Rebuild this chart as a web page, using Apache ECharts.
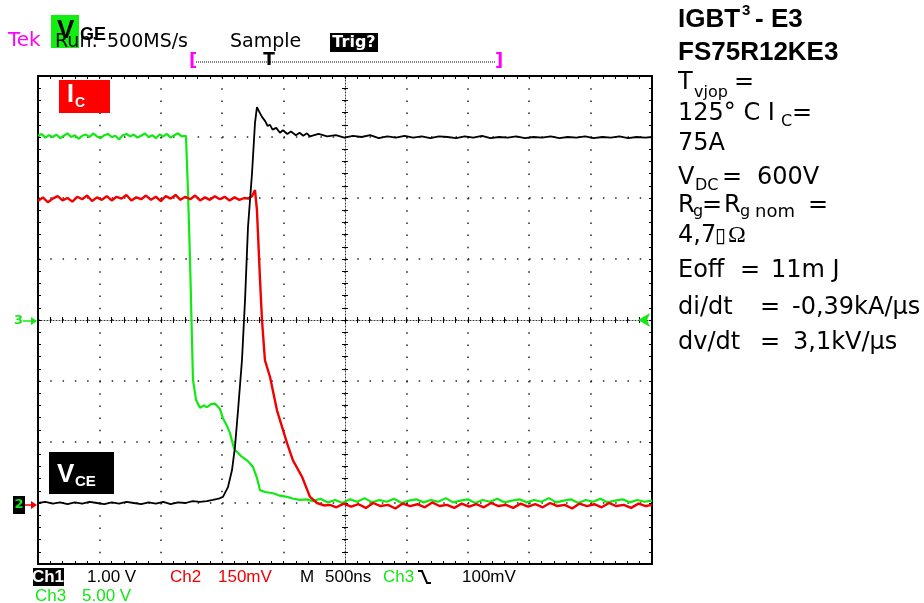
<!DOCTYPE html>
<html><head><meta charset="utf-8">
<script src="https://cdn.jsdelivr.net/npm/echarts@6/dist/echarts.min.js"></script>
<style>html,body{margin:0;padding:0;background:#fff}#c{width:924px;height:603px}</style>
</head><body><div id="c"></div>
<script>
// ---- axis ranges (time in ns, 500 ns/div; vertical in divisions) ----
const timeRange = [0, 5000];
const timeStep = 500;
const divRange = [-4, 4];
const divStep = 1;

// ---- V_GE (green, Ch3) ----
const vgeTrace = [
 [0,3.02],[30,3.05],[60,2.99],[90,3.03],[120,3.00],[150,3.04],[180,2.98],[210,3.02],[240,3.06],[270,3.00],
 [300,3.03],[330,2.97],[360,3.02],[390,3.04],[420,3.00],[450,3.06],[480,3.01],[510,2.98],[540,3.03],[570,3.05],
 [600,3.00],[630,3.02],[660,2.96],[690,3.03],[720,3.05],[750,3.01],[780,3.04],[810,2.99],[840,3.02],[870,3.06],
 [900,3.00],[930,3.03],[960,2.98],[990,3.04],[1020,3.01],[1050,3.05],[1080,2.99],[1110,3.03],[1140,3.06],[1170,3.01],
 [1205,3.02],[1221,2.13],[1238,0.98],[1254,-0.33],[1262,-0.98],[1287,-1.31],[1319,-1.44],[1350,-1.40],[1376,-1.43],
 [1410,-1.38],[1441,-1.37],[1482,-1.46],[1506,-1.61],[1535,-1.72],[1563,-1.85],[1590,-2.06],[1604,-2.13],[1630,-2.18],
 [1653,-2.23],[1702,-2.30],[1730,-2.36],[1751,-2.41],[1783,-2.59],[1808,-2.79],[1850,-2.82],[1914,-2.84],[1970,-2.88],
 [2028,-2.90],[2080,-2.93],[2133,-2.95],[2190,-2.94],[2239,-2.97],
 [2300,-2.93],[2360,-2.99],[2420,-2.95],[2480,-3.00],[2540,-2.94],[2600,-2.98],[2660,-2.92],[2720,-2.99],[2780,-2.95],
 [2840,-2.98],[2900,-2.93],[2960,-3.00],[3020,-2.96],[3080,-2.94],[3140,-2.99],[3200,-2.95],[3260,-2.98],[3320,-2.92],
 [3380,-2.99],[3440,-2.96],[3500,-2.94],[3560,-3.00],[3620,-2.95],[3680,-2.98],[3740,-2.93],[3800,-2.99],[3860,-2.96],
 [3920,-2.94],[3980,-2.99],[4040,-2.95],[4100,-2.98],[4160,-2.92],[4220,-2.99],[4280,-2.96],[4340,-2.94],[4400,-3.00],
 [4460,-2.95],[4520,-2.98],[4580,-2.93],[4640,-2.99],[4700,-2.96],[4760,-2.94],[4820,-2.99],[4880,-2.95],[4940,-2.98],[5000,-2.96]
];

// ---- I_C (red, Ch2) ----
const icTrace = [
 [0,1.95],[40,2.01],[80,1.93],[120,1.99],[160,2.03],[200,1.96],[240,2.00],[280,1.94],[320,2.02],[360,1.98],
 [400,2.04],[440,1.95],[480,2.01],[520,1.97],[560,2.03],[600,1.96],[640,2.02],[680,1.99],[720,2.05],[760,1.96],
 [800,2.01],[840,1.98],[880,2.04],[920,1.97],[960,2.02],[1000,1.95],[1040,2.03],[1080,1.99],[1120,2.05],[1160,1.97],
 [1200,2.02],[1240,1.98],[1280,2.04],[1320,1.96],[1360,2.01],[1400,1.97],[1440,2.03],[1480,1.98],[1520,2.02],[1560,1.96],
 [1600,2.01],[1640,1.97],[1680,2.00],[1710,1.99],[1743,2.03],[1767,2.13],[1783,1.80],[1792,1.39],[1808,0.66],[1824,0.00],
 [1848,-0.66],[1889,-0.93],[1946,-1.48],[2028,-2.02],[2076,-2.30],[2150,-2.57],[2215,-2.90],[2272,-3.00],[2330,-3.04],
 [2378,-3.03],[2430,-3.07],[2490,-3.01],[2550,-3.06],[2610,-3.02],[2670,-3.08],[2730,-3.00],[2790,-3.05],[2850,-3.03],
 [2910,-3.09],[2970,-3.01],[3030,-3.05],[3090,-3.02],[3150,-3.07],[3210,-2.99],[3270,-3.05],[3330,-3.03],[3390,-3.08],
 [3450,-3.01],[3510,-3.06],[3570,-3.02],[3630,-3.07],[3690,-3.00],[3750,-3.05],[3810,-3.03],[3870,-3.08],[3930,-3.01],
 [3990,-3.06],[4050,-3.02],[4110,-3.07],[4170,-3.00],[4230,-3.05],[4290,-3.03],[4350,-3.09],[4410,-3.01],[4470,-3.05],
 [4530,-3.02],[4590,-3.07],[4650,-3.00],[4710,-3.05],[4770,-3.03],[4830,-3.08],[4890,-3.01],[4950,-3.05],[5000,-3.03]
];

// ---- V_CE (black, Ch1) ----
const vceTrace = [
 [0,-3.00],[60,-2.98],[120,-3.01],[180,-2.99],[240,-3.02],[300,-2.99],[360,-3.01],[420,-2.98],[480,-3.00],[540,-3.02],
 [600,-2.99],[660,-3.01],[720,-2.98],[780,-3.00],[840,-3.02],[900,-2.99],[960,-3.01],[1020,-2.98],[1080,-3.02],[1140,-2.99],
 [1200,-3.00],[1260,-2.97],[1319,-2.98],[1375,-2.97],[1425,-2.95],[1470,-2.93],[1506,-2.90],[1547,-2.74],[1580,-2.46],
 [1604,-2.08],[1629,-1.48],[1661,-0.66],[1686,0.33],[1710,1.52],[1743,2.41],[1767,3.23],[1783,3.49],[1800,3.42],
 [1824,3.33],[1850,3.26],[1870,3.18],[1889,3.20],[1910,3.12],[1940,3.15],[1970,3.07],[1995,3.11],[2030,3.05],[2060,3.09],
 [2100,3.03],[2130,3.07],[2160,3.02],[2190,3.06],[2215,3.01],
 [2285,3.05],[2355,3.01],[2425,3.03],[2495,2.99],[2565,3.02],[2635,3.00],[2705,3.03],[2775,2.98],[2845,3.01],[2915,2.99],
 [2985,3.02],[3055,2.99],[3125,3.01],[3195,2.98],[3265,3.01],[3335,3.00],[3405,2.98],[3475,3.01],[3545,2.99],[3615,3.02],
 [3685,2.98],[3755,3.00],[3825,2.99],[3895,3.01],[3965,2.98],[4035,3.00],[4105,2.99],[4175,3.01],[4245,2.98],[4315,3.00],
 [4385,2.99],[4455,3.01],[4525,2.98],[4595,3.00],[4665,2.99],[4735,3.01],[4805,2.98],[4875,3.00],[4945,2.99],[5000,3.00]
];

// ---- texts ----
const infoBold = ['IGBT', '3', '- E3', 'FS75R12KE3'];
const scopeHeader = ['Tek', 'Run:', '500MS/s', 'Sample', 'Trig?'];
const scopeFooter = ['Ch1', '1.00 V', 'Ch2', '150mV', 'M', '500ns', 'Ch3', '100mV', 'Ch3', '5.00 V'];

const GREEN = '#12e812', RED = '#f20000', BLACK = '#000';
const DJ = '"DejaVu Sans"', LS = '"Liberation Sans"';

function txt(x, y, s, font, fill, align) {
  return {type:'text', x:x, y:y, z:100, silent:true,
    style:{text:s, font:font, fill:fill||'#000', align:align||'left', verticalAlign:'middle',
           textAlign:align||'left', textVerticalAlign:'middle'}};
}
function rect(x, y, w, h, fill) {
  return {type:'rect', z:90, silent:true, shape:{x:x,y:y,width:w,height:h}, style:{fill:fill}};
}

const tickStyle = {color:'#000', width:1};
function xAx(pos, offset, line, inside, split) {
  return {type:'value', min:timeRange[0], max:timeRange[1], interval:timeStep, position:pos, offset:offset,
    axisLine:line ? {show:true, onZero:false, lineStyle:line} : {show:false, onZero:false},
    axisTick:{show:true, inside:inside, length:3, lineStyle:tickStyle},
    minorTick:{show:true, splitNumber:5, length:3, lineStyle:tickStyle},
    axisLabel:{show:false},
    splitLine: split ? {show:true, lineStyle:{color:'#222', width:1.5, type:[1.5,10.7]}} : {show:false}};
}
function yAx(pos, offset, line, inside, split) {
  return {type:'value', min:divRange[0], max:divRange[1], interval:divStep, position:pos, offset:offset,
    axisLine:line ? {show:true, onZero:false, lineStyle:line} : {show:false, onZero:false},
    axisTick:{show:true, inside:inside, length:3, lineStyle:tickStyle},
    minorTick:{show:true, splitNumber:5, length:3, lineStyle:tickStyle},
    axisLabel:{show:false},
    splitLine: split ? {show:true, lineStyle:{color:'#222', width:1.5, type:[1.5,10.78]}} : {show:false}};
}
const frame = {color:'#000', width:2};
const center = {color:'#333', width:1, type:[1,2]};

const graphics = [
  // header
  txt(8, 41, scopeHeader[0], '20px ' + DJ, '#ff00ff'),
  txt(55, 42, scopeHeader[1], '19px ' + DJ, '#000'),
  txt(107, 42, scopeHeader[2], '19px ' + DJ, '#000'),
  txt(230, 42, scopeHeader[3], '19px ' + DJ, '#000'),
  rect(330, 33, 48, 19, '#000'),
  txt(354, 43, scopeHeader[4], 'bold 16px ' + DJ, '#fff', 'center'),
  rect(51, 15, 28, 33, '#11ee11'),
  txt(57, 31, 'V', 'bold 26px ' + LS, '#000'),
  txt(80, 35, 'GE', 'bold 18px ' + LS, '#000'),
  // trigger bar
  txt(189, 61, '[', 'bold 18px ' + DJ, '#ff00ff'),
  {type:'line', z:90, silent:true, shape:{x1:196,y1:62,x2:496,y2:62}, style:{stroke:'#000', lineWidth:1, lineDash:[1,1]}},
  txt(269, 61, 'T', 'bold 17px ' + DJ, '#000', 'center'),
  txt(495, 61, ']', 'bold 18px ' + DJ, '#ff00ff'),
  // footer
  rect(33, 568, 31, 18, '#000'),
  txt(48, 577, scopeFooter[0], 'bold 17px ' + LS, '#fff', 'center'),
  txt(87, 577, scopeFooter[1], '17px ' + LS, '#000'),
  txt(170, 577, scopeFooter[2], '17px ' + LS, RED),
  txt(218, 577, scopeFooter[3], '17px ' + LS, RED),
  txt(300, 577, scopeFooter[4], '17px ' + LS, '#000'),
  txt(325, 577, scopeFooter[5], '17px ' + LS, '#000'),
  txt(383, 577, scopeFooter[6], '17px ' + LS, GREEN),
  {type:'polyline', z:90, silent:true, shape:{points:[[418,571],[422,571],[427,583],[431,583]]}, style:{stroke:'#000', lineWidth:2, fill:null}},
  txt(462, 577, scopeFooter[7], '17px ' + LS, '#000'),
  txt(35, 596, scopeFooter[8], '17px ' + LS, GREEN),
  txt(82, 596, scopeFooter[9], '17px ' + LS, GREEN),
  // channel markers
  txt(14, 321, '3', 'bold 13px ' + DJ, GREEN),
  {type:'line', z:90, silent:true, shape:{x1:23,y1:321,x2:35,y2:321}, style:{stroke:GREEN, lineWidth:1.5}},
  {type:'polygon', z:90, silent:true, shape:{points:[[37,321],[31,317],[31,325]]}, style:{fill:GREEN}},
  rect(13, 496, 12, 18, '#000'),
  txt(19, 505, '2', 'bold 13px ' + DJ, GREEN, 'center'),
  {type:'line', z:90, silent:true, shape:{x1:25,y1:505,x2:35,y2:505}, style:{stroke:RED, lineWidth:1.5}},
  {type:'polygon', z:90, silent:true, shape:{points:[[37,505],[31,501],[31,509]]}, style:{fill:RED}},
  {type:'polygon', z:90, silent:true, shape:{points:[[638,320],[650,313],[647,320],[650,327]]}, style:{fill:GREEN}},
  // trace labels
  rect(59, 80, 51, 33, '#ff0000'),
  txt(67, 95, 'I', 'bold 25px ' + LS, '#fff'),
  txt(75, 103, 'C', 'bold 14px ' + LS, '#fff'),
  rect(49, 452, 65, 42, '#000'),
  txt(57, 475, 'V', 'bold 26px ' + LS, '#fff'),
  txt(75, 482, 'CE', 'bold 15px ' + LS, '#fff'),
  // device info block
  txt(678, 20, infoBold[0], 'bold 26px ' + LS, '#000'),
  txt(742, 11, infoBold[1], 'bold 15px ' + LS, '#000'),
  txt(755, 20, infoBold[2], 'bold 26px ' + LS, '#000'),
  txt(678, 53, infoBold[3], 'bold 26px ' + LS, '#000'),
  txt(678, 83, 'T', '24px ' + DJ),
  txt(694, 93, 'vjop', '16px ' + DJ),
  txt(734, 83, '=', '24px ' + DJ),
  txt(678, 114, '125° C I', '24px ' + DJ),
  txt(781, 122, 'C', '16px ' + DJ),
  txt(792, 114, '=', '24px ' + DJ),
  txt(678, 144, '75A', '24px ' + DJ),
  txt(678, 178, 'V', '24px ' + DJ),
  txt(695, 186, 'DC', '16px ' + DJ),
  txt(722, 178, '=', '24px ' + DJ),
  txt(757, 178, '600V', '24px ' + DJ),
  txt(678, 206, 'R', '24px ' + DJ),
  txt(693, 212, 'g', '16px ' + DJ),
  txt(702, 206, '=', '24px ' + DJ),
  txt(724, 206, 'R', '24px ' + DJ),
  txt(740, 212, 'g', '16px ' + DJ),
  txt(755, 212, 'nom', '18px ' + DJ),
  txt(808, 206, '=', '24px ' + DJ),
  txt(678, 236, '4,7', '24px ' + DJ),
  txt(715, 237, '\u25AF', '20px ' + DJ),
  txt(728, 236, 'Ω', '24px "Liberation Serif"'),
  txt(678, 271, 'Eoff', '24px ' + DJ),
  txt(740, 271, '=', '24px ' + DJ),
  txt(771, 271, '11m J', '24px ' + DJ),
  txt(678, 308, 'di/dt', '24px ' + DJ),
  txt(760, 308, '=', '24px ' + DJ),
  txt(792, 308, '-0,39kA/µs', '24px ' + DJ),
  txt(678, 343, 'dv/dt', '24px ' + DJ),
  txt(760, 343, '=', '24px ' + DJ),
  txt(793, 343, '3,1kV/µs', '24px ' + DJ)
];

const chart = echarts.init(document.getElementById('c'), null, {renderer:'canvas'});
chart.setOption({
  animation:false,
  backgroundColor:'#fff',
  grid:{left:38, top:76, width:614, height:488, containLabel:false, outerBoundsMode:'none'},
  xAxis:[
    xAx('bottom', 0, frame, true, true),
    xAx('top', 0, frame, true, false),
    xAx('bottom', -244, center, false, false),
    xAx('bottom', -244, null, true, false)
  ],
  yAxis:[
    yAx('left', 0, frame, true, true),
    yAx('right', 0, frame, true, false),
    yAx('left', -307, center, false, false),
    yAx('left', -307, null, true, false)
  ],
  series:[
    {type:'line', name:'VGE', data:vgeTrace, showSymbol:false, symbol:'none', lineStyle:{color:GREEN, width:2.2}, z:3},
    {type:'line', name:'IC', data:icTrace, showSymbol:false, symbol:'none', lineStyle:{color:RED, width:2.4}, z:4},
    {type:'line', name:'VCE', data:vceTrace, showSymbol:false, symbol:'none', lineStyle:{color:BLACK, width:1.8}, z:5}
  ],
  graphic:graphics
});
</script>
</body></html>
